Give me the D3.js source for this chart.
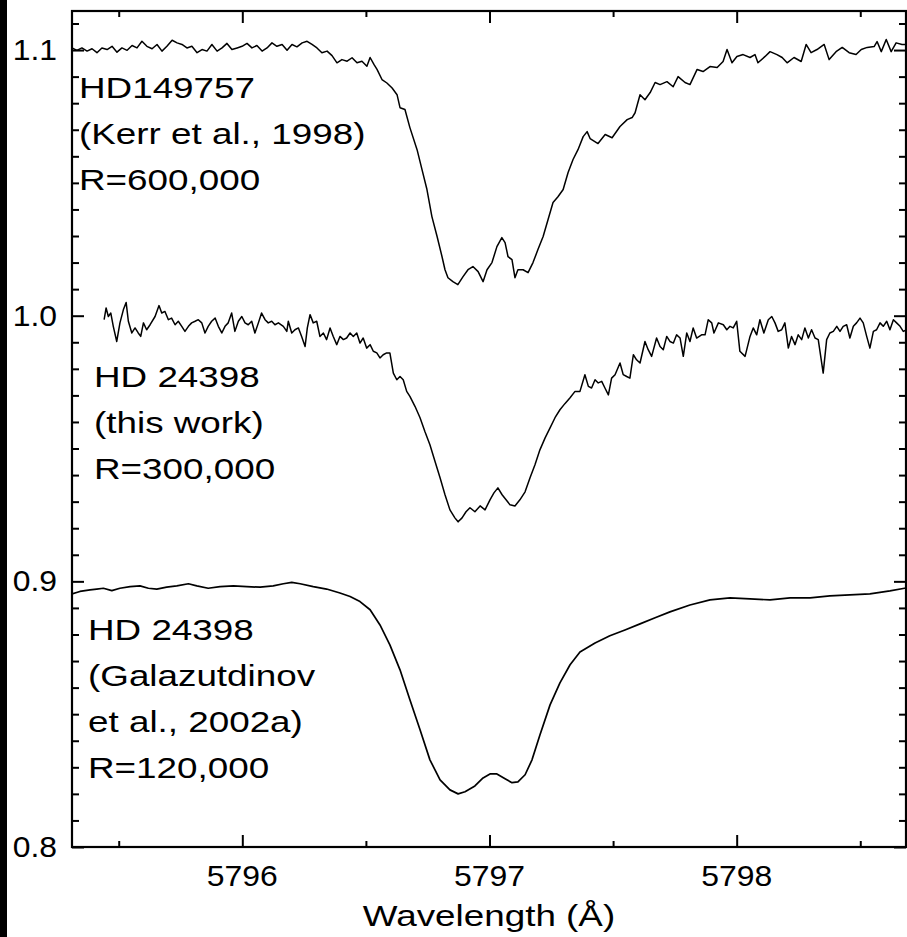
<!DOCTYPE html>
<html>
<head>
<meta charset="utf-8">
<script src="https://cdn.jsdelivr.net/npm/d3@7"></script>
<style>
  html, body { margin: 0; padding: 0; background: #fff; }
  svg { display: block; }
  text { font-family: "Liberation Sans", Arial, Helvetica, sans-serif; fill: #000; }
</style>
</head>
<body>
<svg id="chart" width="907" height="937"></svg>
<script>
// ---- axis ticks --------------------------------------------------------
const xMajorTicks = [5796, 5797, 5798];
const xMinorTicks = [5795.5, 5796.5, 5797.5, 5798.5];
const yMajorTicks = [0.8, 0.9, 1.0, 1.1];
const yTickLabels = ["0.8", "0.9", "1.0", "1.1"];
const xTickLabels = ["5796", "5797", "5798"];

// ---- HD149757, Kerr et al. 1998, R=600,000 ------------------------------
const kerrWave = [5795.311,5795.331,5795.351,5795.372,5795.392,5795.412,5795.432,5795.453,5795.473,5795.493,
  5795.513,5795.534,5795.554,5795.574,5795.594,5795.614,5795.635,5795.655,5795.675,5795.695,
  5795.716,5795.736,5795.756,5795.776,5795.796,5795.817,5795.837,5795.857,5795.877,5795.898,
  5795.918,5795.938,5795.958,5795.979,5795.999,5796.019,5796.039,5796.059,5796.080,5796.100,
  5796.120,5796.140,5796.161,5796.181,5796.201,5796.221,5796.242,5796.262,5796.282,5796.302,
  5796.322,5796.343,5796.363,5796.383,5796.403,5796.424,5796.444,5796.464,5796.484,5796.504,
  5796.517,5796.533,5796.545,5796.565,5796.585,5796.606,5796.626,5796.638,5796.658,5796.678,
  5796.707,5796.727,5796.747,5796.767,5796.788,5796.808,5796.820,5796.832,5796.852,5796.872,
  5796.893,5796.913,5796.933,5796.954,5796.974,5796.990,5797.010,5797.030,5797.050,5797.063,
  5797.075,5797.091,5797.103,5797.115,5797.136,5797.156,5797.176,5797.196,5797.217,5797.237,
  5797.257,5797.277,5797.298,5797.318,5797.338,5797.358,5797.379,5797.395,5797.407,5797.439,
  5797.468,5797.496,5797.528,5797.557,5797.577,5797.589,5797.609,5797.629,5797.650,5797.670,
  5797.690,5797.718,5797.743,5797.763,5797.791,5797.811,5797.840,5797.864,5797.892,5797.921,
  5797.945,5797.961,5797.981,5798.001,5798.026,5798.054,5798.074,5798.086,5798.115,5798.135,
  5798.163,5798.184,5798.204,5798.232,5798.261,5798.281,5798.301,5798.325,5798.354,5798.374,
  5798.402,5798.427,5798.455,5798.483,5798.504,5798.528,5798.556,5798.568,5798.585,5798.605,
  5798.625,5798.645,5798.669,5798.681];
const kerrFlux = [1.1008,1.0999,1.1008,1.0996,1.1005,1.0990,1.1008,1.1002,1.1014,1.0992,
  1.1008,1.0999,1.1017,1.1008,1.1033,1.1014,1.1005,1.1021,1.0996,1.1014,
  1.1037,1.1027,1.1021,1.1008,1.1014,1.0990,1.1002,1.0996,1.1021,1.0996,
  1.1008,1.1025,1.1002,1.1008,1.1014,1.1025,1.1008,1.1017,1.0996,1.1008,
  1.1027,1.1014,1.1021,1.0999,1.1021,1.1012,1.1027,1.1033,1.1021,1.1008,
  1.0990,1.0996,1.0979,1.0952,1.0964,1.0958,1.0971,1.0952,1.0958,1.0939,
  1.0972,1.0945,1.0927,1.0889,1.0876,1.0857,1.0832,1.0783,1.0776,1.0708,
  1.0625,1.0550,1.0475,1.0373,1.0298,1.0222,1.0173,1.0143,1.0128,1.0117,
  1.0147,1.0173,1.0185,1.0166,1.0128,1.0173,1.0200,1.0260,1.0294,1.0275,
  1.0222,1.0211,1.0143,1.0173,1.0173,1.0162,1.0200,1.0249,1.0298,1.0362,
  1.0426,1.0448,1.0475,1.0539,1.0588,1.0625,1.0674,1.0693,1.0667,1.0648,
  1.0682,1.0670,1.0712,1.0738,1.0746,1.0764,1.0832,1.0813,1.0840,1.0878,
  1.0870,1.0881,1.0862,1.0900,1.0878,1.0870,1.0927,1.0919,1.0938,1.0934,
  1.0957,1.1002,1.0952,1.0976,1.0983,1.0972,1.0983,1.0952,1.0976,1.0994,
  1.0983,1.0972,1.0952,1.0972,1.0957,1.1021,1.0990,1.1002,1.1021,1.0964,
  1.0994,1.1010,1.0990,1.0983,1.1002,1.1010,1.1013,1.1032,1.0994,1.1040,
  1.0994,1.1027,1.1021,1.1021];

// ---- HD 24398, this work, R=300,000 -------------------------------------
const thisWave = [5795.441,5795.449,5795.458,5795.468,5795.478,5795.492,5795.505,5795.519,5795.530,5795.539,
  5795.553,5795.566,5795.579,5795.589,5795.600,5795.613,5795.627,5795.647,5795.663,5795.674,
  5795.687,5795.701,5795.714,5795.728,5795.741,5795.755,5795.768,5795.782,5795.795,5795.809,
  5795.822,5795.836,5795.849,5795.862,5795.876,5795.890,5795.903,5795.917,5795.930,5795.943,
  5795.957,5795.970,5795.984,5795.998,5796.011,5796.024,5796.038,5796.051,5796.065,5796.078,
  5796.092,5796.105,5796.119,5796.132,5796.146,5796.166,5796.180,5796.186,5796.200,5796.213,
  5796.227,5796.240,5796.254,5796.263,5796.274,5796.287,5796.301,5796.314,5796.328,5796.341,
  5796.355,5796.368,5796.382,5796.395,5796.409,5796.422,5796.436,5796.449,5796.463,5796.476,
  5796.489,5796.503,5796.517,5796.530,5796.544,5796.557,5796.570,5796.584,5796.597,5796.611,
  5796.625,5796.638,5796.651,5796.665,5796.678,5796.699,5796.719,5796.739,5796.759,5796.780,
  5796.800,5796.820,5796.840,5796.860,5796.873,5796.889,5796.905,5796.921,5796.941,5796.962,
  5796.982,5797.002,5797.018,5797.034,5797.051,5797.067,5797.083,5797.103,5797.123,5797.144,
  5797.164,5797.184,5797.204,5797.225,5797.245,5797.265,5797.285,5797.305,5797.326,5797.346,
  5797.366,5797.386,5797.400,5797.413,5797.427,5797.440,5797.454,5797.467,5797.481,5797.494,
  5797.508,5797.528,5797.541,5797.555,5797.568,5797.582,5797.595,5797.609,5797.629,5797.642,
  5797.656,5797.676,5797.690,5797.703,5797.717,5797.730,5797.744,5797.757,5797.771,5797.784,
  5797.798,5797.811,5797.824,5797.838,5797.858,5797.872,5797.885,5797.899,5797.908,5797.926,
  5797.946,5797.960,5797.973,5797.986,5798.000,5798.013,5798.034,5798.054,5798.067,5798.081,
  5798.094,5798.110,5798.128,5798.142,5798.155,5798.168,5798.182,5798.195,5798.209,5798.222,
  5798.236,5798.249,5798.263,5798.276,5798.290,5798.303,5798.317,5798.330,5798.350,5798.364,
  5798.377,5798.391,5798.405,5798.418,5798.431,5798.445,5798.458,5798.472,5798.485,5798.499,
  5798.512,5798.526,5798.539,5798.553,5798.566,5798.580,5798.593,5798.607,5798.620,5798.634,
  5798.647,5798.661,5798.674,5798.688];
const thisFlux = [0.9985,1.0029,0.9997,1.0010,0.9960,0.9903,0.9973,1.0023,1.0050,0.9979,
  0.9935,0.9954,0.9935,0.9922,0.9973,0.9947,0.9966,0.9997,1.0038,1.0010,
  1.0016,0.9985,0.9991,0.9966,0.9979,0.9960,0.9941,0.9960,0.9973,0.9979,
  0.9985,0.9973,0.9935,0.9960,0.9979,0.9991,0.9960,0.9935,0.9960,0.9973,
  1.0010,0.9941,0.9979,0.9997,0.9973,0.9966,0.9979,0.9935,0.9973,1.0010,
  0.9985,0.9973,0.9979,0.9966,0.9973,0.9960,0.9941,0.9979,0.9935,0.9947,
  0.9954,0.9922,0.9884,0.9954,1.0004,0.9973,0.9979,0.9922,0.9935,0.9910,
  0.9954,0.9922,0.9891,0.9922,0.9910,0.9916,0.9935,0.9922,0.9935,0.9897,
  0.9916,0.9878,0.9891,0.9866,0.9860,0.9841,0.9853,0.9860,0.9860,0.9784,
  0.9759,0.9771,0.9759,0.9715,0.9696,0.9658,0.9616,0.9563,0.9514,0.9450,
  0.9390,0.9326,0.9269,0.9239,0.9224,0.9239,0.9262,0.9277,0.9262,0.9284,
  0.9269,0.9307,0.9333,0.9352,0.9326,0.9307,0.9288,0.9284,0.9307,0.9337,
  0.9390,0.9439,0.9495,0.9540,0.9578,0.9616,0.9646,0.9669,0.9691,0.9715,
  0.9715,0.9778,0.9734,0.9728,0.9759,0.9747,0.9753,0.9728,0.9702,0.9765,
  0.9778,0.9822,0.9778,0.9771,0.9765,0.9853,0.9834,0.9822,0.9903,0.9872,
  0.9847,0.9916,0.9884,0.9872,0.9922,0.9903,0.9897,0.9928,0.9916,0.9847,
  0.9935,0.9903,0.9954,0.9916,0.9928,0.9928,0.9985,0.9973,0.9935,0.9973,
  0.9966,0.9947,0.9960,0.9954,0.9979,0.9866,0.9847,0.9922,0.9954,0.9928,
  0.9985,0.9935,0.9985,0.9997,0.9973,0.9941,0.9947,0.9973,0.9878,0.9922,
  0.9891,0.9928,0.9910,0.9954,0.9916,0.9947,0.9916,0.9910,0.9784,0.9910,
  0.9935,0.9941,0.9960,0.9941,0.9960,0.9966,0.9916,0.9960,0.9973,0.9991,
  0.9973,0.9922,0.9878,0.9941,0.9947,0.9973,0.9960,0.9979,0.9947,0.9985,
  0.9973,0.9960,0.9941,0.9947];

// ---- HD 24398, Galazutdinov et al. 2002a, R=120,000 ---------------------
const galWave = [5795.311,5795.343,5795.384,5795.411,5795.438,5795.472,5795.505,5795.546,5795.586,5795.620,
  5795.654,5795.694,5795.735,5795.782,5795.816,5795.862,5795.910,5795.964,5796.018,5796.072,
  5796.125,5796.166,5796.200,5796.234,5796.287,5796.341,5796.395,5796.436,5796.476,5796.517,
  5796.557,5796.597,5796.638,5796.678,5796.719,5796.759,5796.800,5796.840,5796.873,5796.901,
  5796.941,5796.974,5797.002,5797.030,5797.063,5797.091,5797.115,5797.144,5797.172,5797.204,
  5797.245,5797.285,5797.326,5797.366,5797.427,5797.487,5797.548,5797.609,5797.670,5797.730,
  5797.811,5797.892,5797.973,5798.054,5798.135,5798.216,5798.297,5798.377,5798.458,5798.539,
  5798.620,5798.685];
const galFlux = [0.8953,0.8962,0.8968,0.8971,0.8974,0.8965,0.8974,0.8980,0.8983,0.8974,
  0.8971,0.8978,0.8983,0.8991,0.8983,0.8974,0.8980,0.8983,0.8980,0.8978,
  0.8983,0.8991,0.8996,0.8991,0.8980,0.8971,0.8956,0.8943,0.8924,0.8893,
  0.8836,0.8761,0.8667,0.8554,0.8441,0.8328,0.8253,0.8215,0.8200,0.8208,
  0.8230,0.8260,0.8275,0.8275,0.8257,0.8242,0.8245,0.8272,0.8328,0.8422,
  0.8535,0.8618,0.8686,0.8734,0.8768,0.8795,0.8817,0.8840,0.8863,0.8885,
  0.8911,0.8930,0.8938,0.8934,0.8930,0.8938,0.8938,0.8945,0.8949,0.8953,
  0.8964,0.8975];

// ---- spectrum annotations ----------------------------------------------
const labels = [
  { lines: ["HD149757", "(Kerr et al., 1998)", "R=600,000"], x: 79, y: 98 },
  { lines: ["HD 24398", "(this work)", "R=300,000"], x: 94, y: 387 },
  { lines: ["HD 24398", "(Galazutdinov", "et al., 2002a)", "R=120,000"], x: 88, y: 640 }
];
const xTitle = "Wavelength (Å)";

// ---- layout ------------------------------------------------------------
const W = 907, H = 937;
const plot = { left: 72, right: 906, top: 11, bottom: 847 };
const FONT = 29, LINE_GAP = 46;
const TEXT_STRETCH = 1.27, TICK_STRETCH = 1.1;

const svg = d3.select("#chart");
svg.append("rect").attr("width", W).attr("height", H).attr("fill", "#fff");
svg.append("rect").attr("x", 0).attr("y", 0).attr("width", 7).attr("height", H).attr("fill", "#000");

const x = d3.scaleLinear().domain([5795.311, 5798.685]).range([plot.left, plot.right]);
const y = d3.scaleLinear().domain([0.8, 1.1147]).range([plot.bottom, plot.top]);

const yMinorTicks = d3.range(81, 112).map(v => v / 100).filter(v => !yMajorTicks.some(m => Math.abs(m - v) < 1e-6));

// inward ticks on all four sides
function tickAxis(axisFn, scale, values, size, transform) {
  const g = svg.append("g").attr("transform", transform)
    .call(axisFn(scale).tickValues(values).tickSize(-size).tickFormat(""));
  g.select(".domain").remove();
  g.selectAll(".tick line").attr("stroke", "#000").attr("stroke-width", 2);
  return g;
}
tickAxis(d3.axisBottom, x, xMajorTicks, 12, `translate(0,${plot.bottom})`);
tickAxis(d3.axisBottom, x, xMinorTicks, 6, `translate(0,${plot.bottom})`);
tickAxis(d3.axisTop, x, xMajorTicks, 12, `translate(0,${plot.top})`);
tickAxis(d3.axisTop, x, xMinorTicks, 6, `translate(0,${plot.top})`);
tickAxis(d3.axisLeft, y, yMajorTicks, 12, `translate(${plot.left},0)`);
tickAxis(d3.axisLeft, y, yMinorTicks, 7, `translate(${plot.left},0)`);
tickAxis(d3.axisRight, y, yMajorTicks, 12, `translate(${plot.right},0)`);
tickAxis(d3.axisRight, y, yMinorTicks, 7, `translate(${plot.right},0)`);

// spectra
const line = d3.line().x(d => x(d[0])).y(d => y(d[1]));
const series = [
  { wave: kerrWave, flux: kerrFlux, width: 1.5 },
  { wave: thisWave, flux: thisFlux, width: 1.5 },
  { wave: galWave, flux: galFlux, width: 1.7 }
];
svg.append("clipPath").attr("id", "plotclip").append("rect")
  .attr("x", plot.left).attr("y", plot.top)
  .attr("width", plot.right - plot.left).attr("height", plot.bottom - plot.top);
svg.append("g").attr("clip-path", "url(#plotclip)")
  .selectAll("path").data(series).join("path")
  .attr("d", s => line(d3.zip(s.wave, s.flux)))
  .attr("fill", "none").attr("stroke", "#000")
  .attr("stroke-width", s => s.width).attr("stroke-linejoin", "round");

// frame
svg.append("rect")
  .attr("x", plot.left).attr("y", plot.top)
  .attr("width", plot.right - plot.left).attr("height", plot.bottom - plot.top)
  .attr("fill", "none").attr("stroke", "#000").attr("stroke-width", 2.2);

// horizontally stretched text helper
function stext(str, tx, ty, anchor, stretch) {
  return svg.append("text")
    .attr("transform", `translate(${tx},${ty}) scale(${stretch},1)`)
    .attr("text-anchor", anchor || "start")
    .attr("font-size", FONT)
    .text(str);
}

// tick labels
yMajorTicks.forEach((v, i) => stext(yTickLabels[i], 57, y(v) + 10, "end", TICK_STRETCH));
xMajorTicks.forEach((v, i) => stext(xTickLabels[i], x(v), 886, "middle", TICK_STRETCH));

// axis title
stext(xTitle, (plot.left + plot.right) / 2, 926, "middle", TEXT_STRETCH);

// annotations
labels.forEach(l => l.lines.forEach((t, i) => stext(t, l.x, l.y + i * LINE_GAP, "start", TEXT_STRETCH)));
</script>
</body>
</html>
